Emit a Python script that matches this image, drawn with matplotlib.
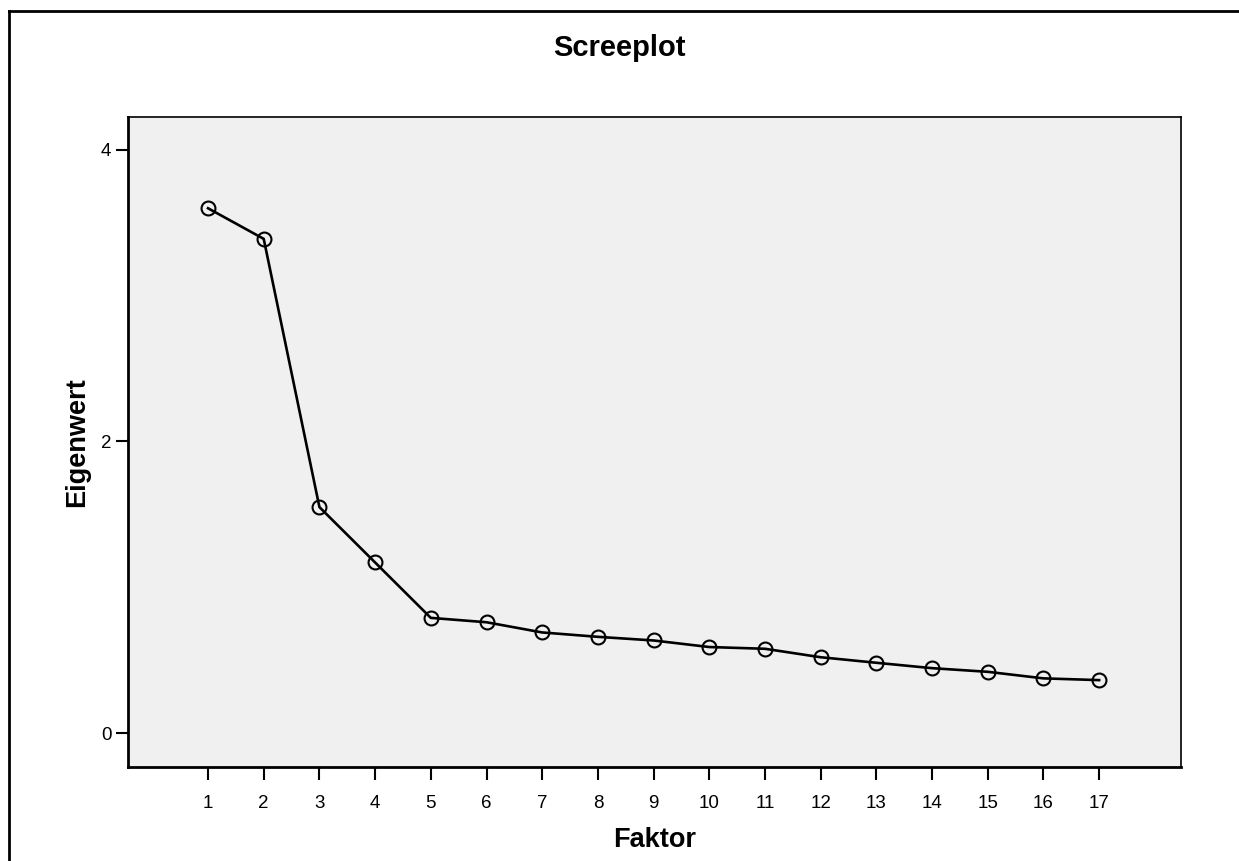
import matplotlib
matplotlib.use('Agg')
import matplotlib.pyplot as plt
from matplotlib.lines import Line2D

plt.rcParams['font.family'] = ['Liberation Sans', 'DejaVu Sans']

faktor = list(range(1, 18))
eigenwert = [3.60, 3.39, 1.55, 1.17, 0.79, 0.76, 0.69, 0.66, 0.635,
             0.59, 0.578, 0.52, 0.482, 0.445, 0.42, 0.375, 0.363]
y_ticks = [0, 2, 4]

fig = plt.figure(figsize=(12.39, 8.61), dpi=100)
ax = fig.add_axes([128/1239, 1 - 767/861, (1181 - 128)/1239, (767 - 117)/861])
ax.set_facecolor('#f0f0f0')

ax.plot(faktor, eigenwert, color='black', lw=1.9, marker='o', markersize=10,
        markerfacecolor='none', markeredgecolor='black', markeredgewidth=1.5)

ax.set_xlim(-0.437, 18.47)
ax.set_ylim(-0.233, 4.226)
ax.set_xticks(faktor)
ax.set_yticks(y_ticks)
ax.tick_params(axis='x', length=9, width=1.5, pad=11, labelsize=13.5)
ax.tick_params(axis='y', length=9, width=1.5, pad=3, labelsize=13.5)

for side in ['left', 'bottom']:
    ax.spines[side].set_linewidth(2)
for side in ['top', 'right']:
    ax.spines[side].set_linewidth(1.2)

ax.set_xlabel('Faktor', fontsize=19.5, fontweight='bold', labelpad=11)
ax.set_ylabel('Eigenwert', fontsize=19.5, fontweight='bold', labelpad=8)
fig.text(0.5, 1 - 48/861, 'Screeplot', ha='center', va='center',
         fontsize=21, fontweight='bold')

# outer frame of the SPSS chart (left and top edges only)
fig.add_artist(Line2D([9/1239, 9/1239], [0, 1 - 11/861], color='black', lw=2))
fig.add_artist(Line2D([9/1239, 1], [1 - 11/861, 1 - 11/861], color='black', lw=2))

fig.savefig('out.png', dpi=100)
